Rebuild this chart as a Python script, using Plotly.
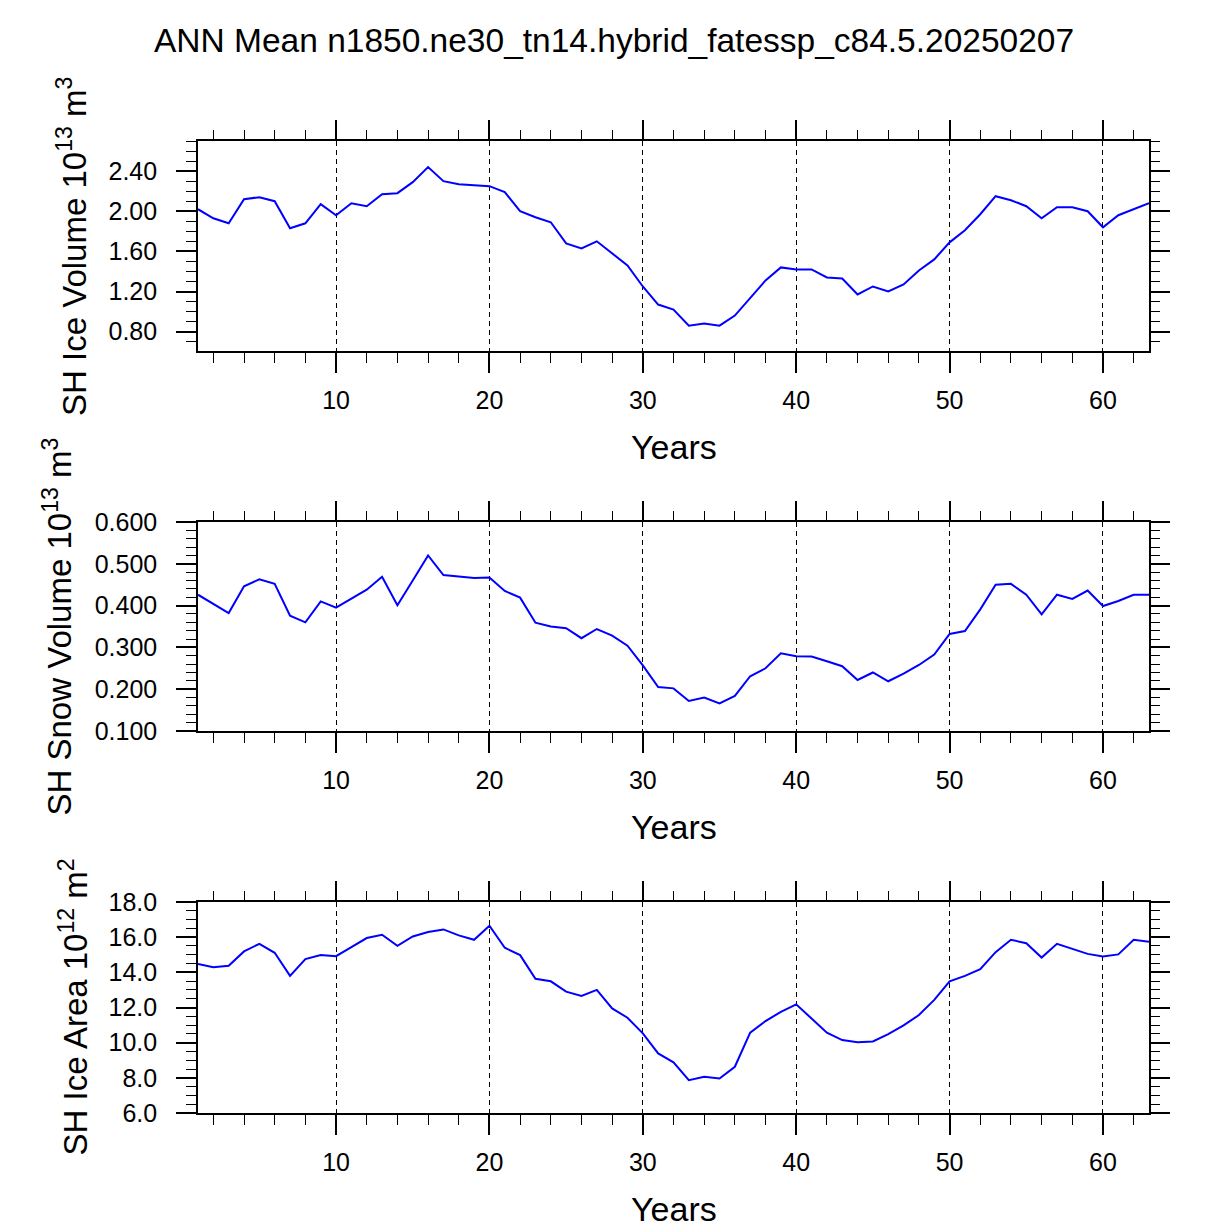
import plotly.graph_objects as go

# annual-mean southern hemisphere sea ice diagnostics, model years 1..63
years = list(range(1, 64))

ice_volume = [2.02, 1.93, 1.88, 2.12, 2.14, 2.10, 1.83, 1.88, 2.07, 1.96,
              2.08, 2.05, 2.17, 2.18, 2.29, 2.44, 2.30, 2.27, 2.26, 2.25,
              2.19, 2.00, 1.94, 1.89, 1.68, 1.63, 1.70, 1.58, 1.46, 1.25,
              1.07, 1.02, 0.86, 0.88, 0.86, 0.96, 1.13, 1.31, 1.44, 1.42,
              1.42, 1.34, 1.33, 1.17, 1.25, 1.20, 1.27, 1.41, 1.52, 1.69,
              1.81, 1.97, 2.15, 2.11, 2.05, 1.93, 2.04, 2.04, 2.00, 1.84,
              1.96, 2.02, 2.08]

snow_volume = [0.426, 0.403, 0.382, 0.446, 0.463, 0.452, 0.376, 0.360, 0.410, 0.395,
               0.416, 0.438, 0.469, 0.401, 0.460, 0.520, 0.473, 0.470, 0.466, 0.467,
               0.435, 0.419, 0.359, 0.350, 0.346, 0.322, 0.344, 0.328, 0.304, 0.257,
               0.205, 0.202, 0.172, 0.180, 0.166, 0.184, 0.231, 0.250, 0.286, 0.279,
               0.278, 0.267, 0.255, 0.222, 0.240, 0.219, 0.237, 0.258, 0.283, 0.332,
               0.339, 0.391, 0.450, 0.452, 0.426, 0.379, 0.426, 0.416, 0.436, 0.399,
               0.411, 0.426, 0.426]

ice_area = [14.48, 14.29, 14.37, 15.19, 15.62, 15.11, 13.80, 14.75, 14.98, 14.92,
            15.43, 15.95, 16.14, 15.51, 16.04, 16.29, 16.44, 16.10, 15.85, 16.65,
            15.40, 14.98, 13.63, 13.49, 12.90, 12.66, 13.00, 11.95, 11.42, 10.53,
            9.39, 8.88, 7.87, 8.06, 7.96, 8.63, 10.57, 11.23, 11.75, 12.18,
            11.37, 10.57, 10.15, 10.03, 10.07, 10.49, 10.98, 11.57, 12.43, 13.49,
            13.80, 14.18, 15.15, 15.85, 15.66, 14.84, 15.62, 15.34, 15.05, 14.90,
            15.02, 15.85, 15.74]

title = "ANN Mean n1850.ne30_tn14.hybrid_fatessp_c84.5.20250207"
ytitles = ["SH Ice Volume 10<sup>13</sup> m<sup>3</sup>",
           "SH Snow Volume 10<sup>13</sup> m<sup>3</sup>",
           "SH Ice Area 10<sup>12</sup> m<sup>2</sup>"]
series = [ice_volume, snow_volume, ice_area]

FONT = "Liberation Sans, Arial, Helvetica, sans-serif"
OFF = 8  # page body margin of the html page
W, H = 1227 - OFF, 1225 - OFF
ML, MR, MT, MB = 190, 78, 133, 112
plot_h = H - MT - MB
plot_w = W - ML - MR

# panel tops/bottoms and y-title x in page pixels
panels_px = [(141, 351), (522, 731), (902, 1113)]
ytitle_x = [72, 57, 73]


def py(page_y):
    return (H - MB - (page_y - OFF)) / plot_h


def px(page_x):
    return (page_x - OFF - ML) / plot_w


yaxis_opts = [
    dict(range=[0.607, 2.70], dtick=0.4, tickformat=".2f", minor=0.1),
    dict(range=[0.1, 0.6], dtick=0.1, tickformat=".3f", minor=0.02),
    dict(range=[6.0, 18.0], dtick=2, tickformat=".1f", minor=0.5),
]

tick_style = dict(ticks="outside", ticklen=20, tickwidth=1.6, tickcolor="black",
                  zeroline=False, tickfont=dict(size=25))


def minor_style(step):
    return dict(dtick=step, tick0=0, ticks="outside", ticklen=10,
                tickwidth=1.2, tickcolor="black", showgrid=False)


fig = go.Figure()
layout = dict(
    width=W, height=H,
    margin=dict(l=ML, r=MR, t=MT, b=MB),
    paper_bgcolor="white", plot_bgcolor="white",
    showlegend=False,
    font=dict(family=FONT, color="black", size=25),
)

annotations = []
for i, (vals, ytit) in enumerate(zip(series, ytitles)):
    n = "" if i == 0 else str(i + 1)
    m = str(i + 4)  # overlay axes for the top / right tick marks
    opts = yaxis_opts[i]
    top, bot = panels_px[i]

    fig.add_trace(go.Scatter(x=years, y=vals, mode="lines",
                             line=dict(color="#0000ff", width=2),
                             xaxis="x" + n, yaxis="y" + n))
    fig.add_trace(go.Scatter(x=years, y=vals, mode="lines", opacity=0,
                             line=dict(width=0), hoverinfo="skip",
                             xaxis="x" + m, yaxis="y" + m))

    layout["xaxis" + n] = dict(
        domain=[0, 1], anchor="y" + n, range=[1, 63], tick0=0, dtick=10,
        showline=True, linecolor="black", linewidth=1.6, mirror=True,
        showgrid=True, gridcolor="black", gridwidth=1, griddash="5px,4px",
        ticklabelstandoff=6, minor=minor_style(2), **tick_style)
    layout["yaxis" + n] = dict(
        domain=[py(bot), py(top)], anchor="x" + n, range=opts["range"],
        tick0=0, dtick=opts["dtick"], tickformat=opts["tickformat"],
        showline=True, linecolor="black", linewidth=1.6, mirror=True,
        showgrid=False, ticklabelstandoff=14, minor=minor_style(opts["minor"]),
        **tick_style)
    layout["xaxis" + m] = dict(
        overlaying="x" + n, anchor="y" + m, side="top", range=[1, 63],
        tick0=0, dtick=10, showticklabels=False, showline=False,
        showgrid=False, minor=minor_style(2), **tick_style)
    layout["yaxis" + m] = dict(
        overlaying="y" + n, anchor="x" + m, side="right", range=opts["range"],
        tick0=0, dtick=opts["dtick"], showticklabels=False, showline=False,
        showgrid=False, minor=minor_style(opts["minor"]), **tick_style)

    annotations.append(dict(
        text=ytit, textangle=-90, xref="paper", yref="paper",
        x=px(ytitle_x[i]), y=py((top + bot) / 2), xanchor="center",
        yanchor="middle", showarrow=False, font=dict(size=33)))
    annotations.append(dict(
        text="Years", xref="paper", yref="paper",
        x=0.5, y=py(bot + 96), xanchor="center", yanchor="middle",
        showarrow=False, font=dict(size=34)))

annotations.append(dict(
    text=title, xref="paper", yref="paper",
    x=px(614), y=py(40), xanchor="center", yanchor="middle",
    showarrow=False, font=dict(size=33.5)))

layout["annotations"] = annotations
fig.update_layout(**layout)

fig.write_html("out.html")
